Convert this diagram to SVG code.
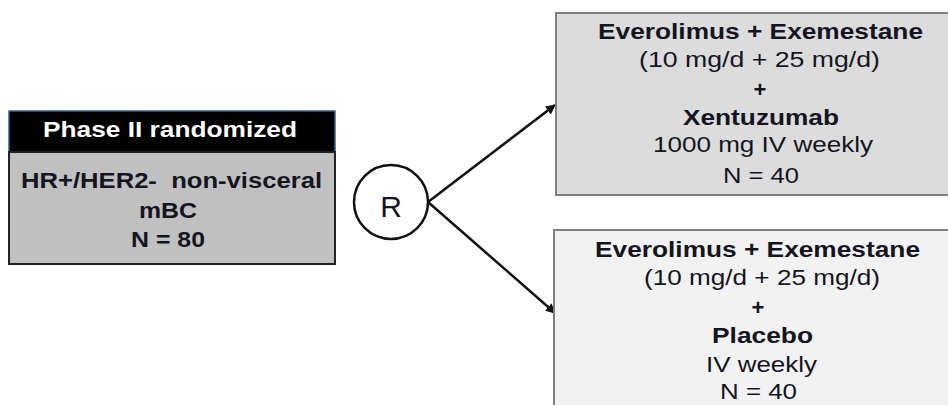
<svg xmlns="http://www.w3.org/2000/svg" width="948" height="405" viewBox="0 0 948 405">
<style>
text{font-family:"Liberation Sans",Arial,sans-serif;fill:#15151f;text-anchor:middle;white-space:pre}
.b{font-weight:bold}
.r20{font-size:22px}
.l22{font-size:22.5px}
.box{stroke:#7f7f7f;stroke-width:2}
.conn{stroke:#111;stroke-width:2.5;fill:none;marker-end:url(#ah)}
</style>
<defs>
<marker id="ah" viewBox="0 0 10 10" refX="9" refY="5" markerWidth="4" markerHeight="4" orient="auto" markerUnits="strokeWidth">
<path d="M0,0 L10,5 L0,10 z" fill="#111"/>
</marker>
</defs>
<g id="connectors">
<line class="conn" x1="428" y1="202" x2="555" y2="105"/>
<line class="conn" x1="428" y1="202" x2="555" y2="313"/>
</g>
<g id="source">
<rect x="9" y="111" width="326" height="41" fill="#000" stroke="#2f5f9f" stroke-width="1.5"/>
<rect x="9" y="152" width="326" height="112" fill="#c0c0c0" stroke="#222" stroke-width="2"/>
<text class="b l22" x="170" y="137" textLength="254" lengthAdjust="spacingAndGlyphs" style="fill:#fff">Phase II randomized</text>
<text class="b l22" x="171.5" y="188" textLength="301" lengthAdjust="spacingAndGlyphs">HR+/HER2-  non-visceral</text>
<text class="b l22" x="168" y="218" textLength="58" lengthAdjust="spacingAndGlyphs">mBC</text>
<text class="b l22" x="168" y="247" textLength="74" lengthAdjust="spacingAndGlyphs">N = 80</text>
</g>
<g id="randomize">
<circle cx="391" cy="202" r="37" fill="#fff" stroke="#111" stroke-width="2.5"/>
<text x="391" y="217" style="font-size:30px">R</text>
</g>
<g id="arm-xentuzumab">
<rect class="box" x="556" y="13" width="400" height="182" fill="#dcdcdc"/>
<text class="b r20" x="760.5" y="39" textLength="325" lengthAdjust="spacingAndGlyphs">Everolimus + Exemestane</text>
<text class="r20" x="759.5" y="67" textLength="241" lengthAdjust="spacingAndGlyphs">(10 mg/d + 25 mg/d)</text>
<text class="b r20" x="760" y="97">+</text>
<text class="b r20" x="761" y="125" textLength="156" lengthAdjust="spacingAndGlyphs">Xentuzumab</text>
<text class="r20" x="763" y="152" textLength="220" lengthAdjust="spacingAndGlyphs">1000 mg IV weekly</text>
<text class="r20" x="761" y="183" textLength="76" lengthAdjust="spacingAndGlyphs">N = 40</text>
</g>
<g id="arm-placebo">
<rect class="box" x="554" y="230" width="400" height="200" fill="#f2f2f2"/>
<text class="b r20" x="757.5" y="257" textLength="325" lengthAdjust="spacingAndGlyphs">Everolimus + Exemestane</text>
<text class="r20" x="762" y="285" textLength="236" lengthAdjust="spacingAndGlyphs">(10 mg/d + 25 mg/d)</text>
<text class="b r20" x="758" y="315">+</text>
<text class="b r20" x="762.5" y="343" textLength="101" lengthAdjust="spacingAndGlyphs">Placebo</text>
<text class="r20" x="761.5" y="372" textLength="111" lengthAdjust="spacingAndGlyphs">IV weekly</text>
<text class="r20" x="758.5" y="399" textLength="77" lengthAdjust="spacingAndGlyphs">N = 40</text>
</g>
</svg>
